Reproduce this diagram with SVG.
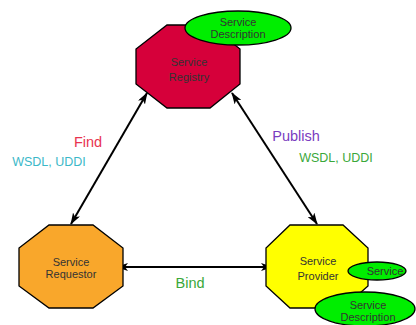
<svg xmlns="http://www.w3.org/2000/svg" width="416" height="325" viewBox="0 0 416 325">
<style>
.oct{stroke:#000;stroke-width:1.3}
.ell{fill:#00ee00;stroke:#000;stroke-width:1.3}
.nt{font-family:"Liberation Sans",Arial,sans-serif;font-size:11px;fill:#333;text-anchor:middle}
.lb{font-family:"Liberation Sans",Arial,sans-serif;text-anchor:middle}
.conn{stroke:#000;stroke-width:2;fill:none;marker-start:url(#ah);marker-end:url(#ah)}
</style>
<defs>
<marker id="ah" viewBox="0 0 12 8" refX="11" refY="4" markerWidth="12" markerHeight="8" markerUnits="userSpaceOnUse" orient="auto-start-reverse">
<path d="M0,0 L12,4 L0,8 L3,4 Z" fill="#000"/>
</marker>
</defs>
<rect width="416" height="325" fill="#fff"/>
<g id="connectors">
<line class="conn" x1="147" y1="93" x2="71" y2="224"/>
<line class="conn" x1="232" y1="93" x2="317" y2="224"/>
<line class="conn" x1="117" y1="267" x2="272" y2="267"/>
</g>
<g id="registry">
<polygon class="oct" fill="#d6003a" points="167,25 210,25 240,49 240,84 210,108 167,108 136,84 136,49"/>
<text class="nt" x="189" y="66">Service</text>
<text class="nt" x="189" y="81">Registry</text>
</g>
<g id="registry-description">
<ellipse class="ell" cx="238" cy="28" rx="53" ry="17"/>
<text class="nt" x="238" y="26">Service</text>
<text class="nt" x="238" y="38">Description</text>
</g>
<g id="requestor">
<polygon class="oct" fill="#f9a72b" points="49,225 93,225 123,248 123,286 93,308 49,308 19,286 19,248"/>
<text class="nt" x="71" y="266">Service</text>
<text class="nt" x="71" y="278">Requestor</text>
</g>
<g id="provider">
<polygon class="oct" fill="#ffff00" points="290,225 343,225 368,248 368,286 343,308 290,308 266,286 266,248"/>
<text class="nt" x="318" y="265">Service</text>
<text class="nt" x="318" y="280">Provider</text>
</g>
<g id="provider-service">
<ellipse class="ell" cx="377" cy="271" rx="29" ry="9"/>
<text class="nt" x="385" y="275">Service</text>
</g>
<g id="provider-description">
<ellipse class="ell" cx="365" cy="309" rx="50" ry="17"/>
<text class="nt" x="368" y="309">Service</text>
<text class="nt" x="368" y="321">Description</text>
</g>
<g id="labels">
<text class="lb" x="88" y="147" font-size="14.5" fill="#e8334f">Find</text>
<text class="lb" x="49" y="166" font-size="12.5" fill="#3bb8c8">WSDL, UDDI</text>
<text class="lb" x="296" y="141" font-size="14.5" fill="#7a3bc0">Publish</text>
<text class="lb" x="336" y="162" font-size="12.5" fill="#3aa83a">WSDL, UDDI</text>
<text class="lb" x="190" y="288" font-size="14.5" fill="#3aa83a">Bind</text>
</g>
</svg>
